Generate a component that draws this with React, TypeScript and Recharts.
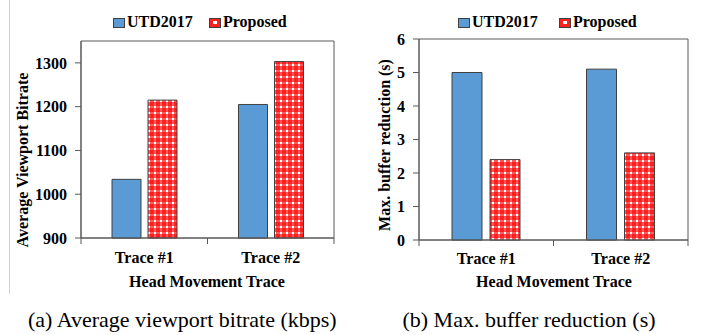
import React from 'react';
import { BarChart, Bar, XAxis, YAxis, CartesianGrid } from 'recharts';

// data
const categories = ['Trace #1', 'Trace #2'];
const seriesNames = ['UTD2017', 'Proposed'];
const bitrateUTD = [1034, 1205];
const bitrateProposed = [1215, 1303];
const bufferUTD = [5.0, 5.1];
const bufferProposed = [2.4, 2.6];
const bitrateTicks = [900, 1000, 1100, 1200, 1300];
const bufferTicks = [0, 1, 2, 3, 4, 5, 6];

const FONT = '"Liberation Serif", "Times New Roman", Times, serif';
const AXIS = '#595959';
const BLUE = '#5B9BD5';
const OUTLINE = '#404040';

const bitrateData = categories.map((name, i) => ({
  name,
  utd: bitrateUTD[i],
  proposed: bitrateProposed[i],
}));

const bufferData = categories.map((name, i) => ({
  name,
  utd: bufferUTD[i],
  proposed: bufferProposed[i],
}));

const tickFont = { fontSize: 16, fontWeight: 'bold', fill: '#000', fontFamily: FONT };

// category label + small tick marks on the category boundaries
const makeCatTick = (labelMargin: number) => (props: any) => {
  const { x, y, payload, index, visibleTicksCount, width } = props;
  const half = payload && payload.offset ? payload.offset : width / (2 * categories.length);
  const axisY = y - labelMargin;
  return (
    <g>
      <line x1={x - half} x2={x - half} y1={axisY} y2={axisY + 6} stroke={AXIS} strokeWidth={1} />
      {index === visibleTicksCount - 1 && (
        <line x1={x + half} x2={x + half} y1={axisY} y2={axisY + 6} stroke={AXIS} strokeWidth={1} />
      )}
      <text x={x} y={y} dy="0.71em" textAnchor="middle" fontSize={16} fontWeight="bold" fill="#000" fontFamily={FONT}>
        {payload.value}
      </text>
    </g>
  );
};

interface PanelProps {
  data: any[];
  domain: [number, number];
  ticks: number[];
  left: number;
  width: number;
  margin: { top: number; right: number; left: number; bottom: number };
  yWidth: number;
  barSize: number;
  barGap: number;
  labelMargin: number;
}

const Panel: React.FC<PanelProps> = ({ data, domain, ticks, left, width, margin, yWidth, barSize, barGap, labelMargin }) => (
  <div style={{ position: 'absolute', left, top: 0 }}>
    <BarChart width={width} height={300} data={data} margin={margin} barSize={barSize} barGap={barGap}>
      {/* plot frame */}
      <CartesianGrid
        stroke={AXIS}
        strokeWidth={1}
        horizontalCoordinatesGenerator={({ offset }: any) => [offset.top, offset.top + offset.height]}
        verticalCoordinatesGenerator={({ offset }: any) => [offset.left, offset.left + offset.width]}
      />
      <XAxis
        dataKey="name"
        height={30}
        axisLine={{ stroke: AXIS }}
        tickLine={false}
        tickSize={0}
        tickMargin={labelMargin}
        tick={makeCatTick(labelMargin)}
      />
      <YAxis
        width={yWidth}
        domain={domain}
        ticks={ticks}
        interval={0}
        axisLine={{ stroke: AXIS }}
        tickLine={{ stroke: AXIS }}
        tickSize={6}
        tickMargin={8}
        tick={tickFont}
      />
      <Bar dataKey="utd" fill={BLUE} stroke={OUTLINE} strokeWidth={1} isAnimationActive={false} />
      <Bar dataKey="proposed" fill="url(#redCheck)" stroke={OUTLINE} strokeWidth={1} isAnimationActive={false} />
    </BarChart>
  </div>
);

const legendText: React.CSSProperties = {
  position: 'absolute',
  top: 12,
  height: 20,
  lineHeight: '20px',
  fontSize: 16,
  fontWeight: 'bold',
  whiteSpace: 'nowrap',
};

const Legend: React.FC<{ xs: number[] }> = ({ xs }) => (
  <>
    {seriesNames.map((s, i) => (
      <React.Fragment key={s}>
        <div
          style={{
            position: 'absolute',
            left: xs[i],
            top: 18,
            width: 10,
            height: 8,
            border: `1px solid ${OUTLINE}`,
            backgroundColor: i === 0 ? BLUE : '#ff2020',
          }}
        >
          {i === 1 && <div style={{ position: 'absolute', left: 3, top: 2, width: 4, height: 3, background: '#fff' }} />}
        </div>
        <div style={{ ...legendText, left: xs[i] + 14 }}>{s}</div>
      </React.Fragment>
    ))}
  </>
);

const title: React.CSSProperties = {
  position: 'absolute',
  height: 20,
  lineHeight: '20px',
  fontSize: 16,
  fontWeight: 'bold',
  textAlign: 'center',
  whiteSpace: 'nowrap',
};

const caption: React.CSSProperties = {
  position: 'absolute',
  top: 307,
  height: 25,
  lineHeight: '25px',
  fontSize: 22,
  textAlign: 'center',
  whiteSpace: 'nowrap',
};

export default function App() {
  return (
    <div
      style={{
        position: 'absolute',
        left: 0,
        top: 0,
        width: 705,
        height: 335,
        background: '#fff',
        fontFamily: FONT,
        color: '#000',
        overflow: 'hidden',
      }}
    >
      <svg width={0} height={0} style={{ position: 'absolute' }}>
        <defs>
          <pattern id="redCheck" width={6} height={6} patternUnits="userSpaceOnUse">
            <rect width={6} height={6} fill="#fff" />
            <rect x={0} y={0} width={4} height={6} fill="#ff0000" fillOpacity={0.65} />
            <rect x={0} y={0} width={6} height={4} fill="#ff0000" fillOpacity={0.65} />
          </pattern>
        </defs>
      </svg>

      <div style={{ position: 'absolute', left: 9, top: 0, width: 1, height: 294, background: '#d0d0d0' }} />

      <Panel
        data={bitrateData}
        domain={[900, 1350]}
        ticks={bitrateTicks}
        left={0}
        width={360}
        margin={{ top: 41, right: 26, left: 0, bottom: 32 }}
        yWidth={81}
        barSize={29}
        barGap={7}
        labelMargin={14}
      />
      <Panel
        data={bufferData}
        domain={[0, 6]}
        ticks={bufferTicks}
        left={350}
        width={355}
        margin={{ top: 39, right: 17, left: 0, bottom: 30 }}
        yWidth={69}
        barSize={30}
        barGap={8}
        labelMargin={13}
      />

      <Legend xs={[113, 209]} />
      <Legend xs={[458, 559]} />

      <div style={{ ...title, left: 82, top: 272, width: 250 }}>Head Movement Trace</div>
      <div style={{ ...title, left: 429, top: 272, width: 250 }}>Head Movement Trace</div>

      <div style={{ ...title, left: 23 - 125, top: 150, width: 250, transform: 'rotate(-90deg)' }}>
        Average Viewport Bitrate
      </div>
      <div style={{ ...title, left: 385 - 125, top: 135, width: 250, transform: 'rotate(-90deg)' }}>
        Max. buffer reduction (s)
      </div>

      <div style={{ ...caption, left: 28, width: 300 }}>(a) Average viewport bitrate (kbps)</div>
      <div style={{ ...caption, left: 379, width: 300 }}>(b) Max. buffer reduction (s)</div>
    </div>
  );
}
